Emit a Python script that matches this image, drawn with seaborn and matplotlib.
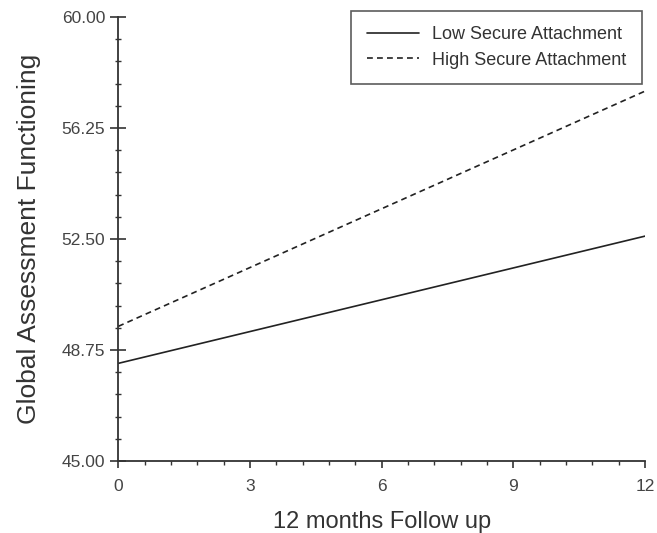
import numpy as np
import pandas as pd
import seaborn as sns
import matplotlib.pyplot as plt
from matplotlib.ticker import MultipleLocator, FormatStrFormatter

# simple slopes at baseline and 12 months
months = [0, 12]
low_secure = [48.3, 52.6]
high_secure = [49.55, 57.5]
groups = ["Low Secure Attachment", "High Secure Attachment"]

df = pd.DataFrame({
    "month": months * 2,
    "gaf": low_secure + high_secure,
    "group": [groups[0]] * 2 + [groups[1]] * 2,
})

sns.set_style("ticks")
plt.rcParams['font.family'] = ['Liberation Sans', 'DejaVu Sans']

fig = plt.figure(figsize=(6.57, 5.33), dpi=100)
ax = fig.add_axes([0.18, 0.135, 0.802, 0.833])

sns.lineplot(data=df, x="month", y="gaf", hue="group", style="group",
             palette=["#222222", "#222222"], dashes=[(None, None), (3.5, 2.5)],
             linewidth=1.2, ax=ax)

ax.set_xlim(0, 12)
ax.set_ylim(45, 60)
ax.xaxis.set_major_locator(MultipleLocator(3))
ax.xaxis.set_minor_locator(MultipleLocator(0.6))
ax.yaxis.set_major_locator(MultipleLocator(3.75))
ax.yaxis.set_minor_locator(MultipleLocator(0.75))
ax.yaxis.set_major_formatter(FormatStrFormatter("%.2f"))

for side in ["top", "right"]:
    ax.spines[side].set_visible(False)
for side in ["left", "bottom"]:
    ax.spines[side].set_linewidth(1.3)
    ax.spines[side].set_color("#333333")

ax.tick_params(axis="y", which="major", direction="inout", length=11, width=1.2,
               colors="#333333", labelsize=12.5, pad=4)
ax.tick_params(axis="y", which="minor", direction="inout", length=4, width=1.0,
               colors="#333333")
ax.tick_params(axis="x", which="major", direction="out", length=5, width=1.2,
               colors="#333333", labelsize=12.5, pad=8)
ax.tick_params(axis="x", which="minor", direction="out", length=3, width=1.0,
               colors="#333333")
for lab in ax.get_xticklabels() + ax.get_yticklabels():
    lab.set_color("#444444")

ax.set_xlabel("12 months Follow up", fontsize=17, color="#333333", labelpad=12)
ax.set_ylabel("Global Assessment Functioning", fontsize=19, color="#333333", labelpad=15)

leg = ax.legend(loc="upper right", frameon=True, fancybox=False, fontsize=13,
                handlelength=2.9, handletextpad=0.75, borderpad=0.85,
                labelspacing=0.45, borderaxespad=0,
                bbox_to_anchor=(0.994, 1.0135))
leg.get_frame().set_edgecolor("#333333")
leg.get_frame().set_linewidth(1.2)
for t in leg.get_texts():
    t.set_color("#333333")

fig.savefig("out.png", dpi=100)
